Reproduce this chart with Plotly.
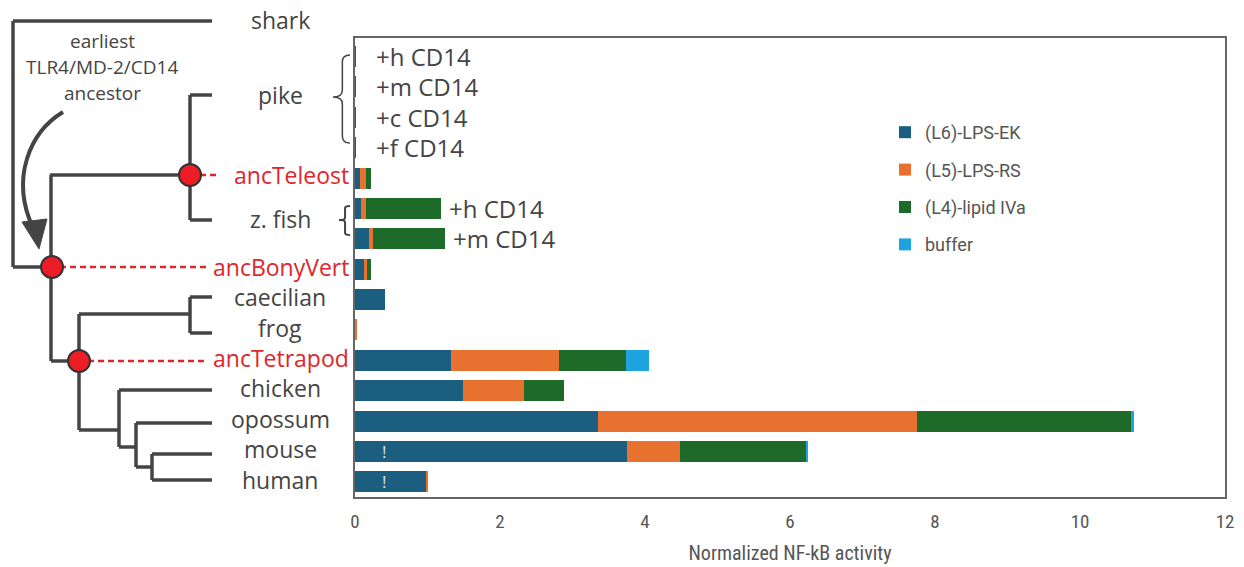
import plotly.graph_objects as go

# ---------------- data ----------------
rows = ["pike +h CD14", "pike +m CD14", "pike +c CD14", "pike +f CD14", "ancTeleost",
        "z. fish +h CD14", "z. fish +m CD14", "ancBonyVert", "caecilian", "frog",
        "ancTetrapod", "chicken", "opossum", "mouse", "human"]
lps_ek   = [0.01, 0.01, 0.01, 0.01, 0.07, 0.08, 0.19, 0.12, 0.41, 0.00, 1.32, 1.49, 3.35, 3.75, 0.99]
lps_rs   = [0.00, 0.00, 0.00, 0.00, 0.08, 0.07, 0.06, 0.04, 0.00, 0.02, 1.49, 0.84, 4.40, 0.73, 0.01]
lipid_iva = [0.00, 0.00, 0.00, 0.00, 0.07, 1.04, 0.99, 0.06, 0.00, 0.00, 0.93, 0.55, 2.95, 1.74, 0.00]
buffer   = [0.00, 0.00, 0.00, 0.00, 0.00, 0.00, 0.00, 0.00, 0.00, 0.00, 0.32, 0.00, 0.04, 0.03, 0.00]
series_names = ["(L6)-LPS-EK", "(L5)-LPS-RS", "(L4)-lipid IVa", "buffer"]
series_colors = ["#1b5e7f", "#e8712f", "#1d6a29", "#1fa3de"]
x_ticks = [0, 2, 4, 6, 8, 10, 12]
cd14_labels = ["+h CD14", "+m CD14", "+c CD14", "+f CD14"]
zfish_labels = ["+h CD14", "+m CD14"]
flag_rows = ["mouse", "human"]

# ---------------- layout constants ----------------
W, H = 1244, 567
L, R, T, B = 355, 19, 38, 70
PW, PH = W - L - R, H - T - B
FONT = "Open Sans"
NARROW = "Liberation Sans Narrow, Roboto Condensed, Roboto"
GREY = "#444444"
RED = "#e0252b"


def X(px):
    return (px - L) / PW


def Y(py):
    return (H - B - py) / PH


fig = go.Figure()
for name, vals, col in zip(series_names, [lps_ek, lps_rs, lipid_iva, buffer], series_colors):
    fig.add_trace(go.Bar(y=rows, x=vals, orientation="h", name=name, marker=dict(color=col, line=dict(width=0)),
                         legendgroup=name))

shapes = []
annotations = []


def line(x0, y0, x1, y1, color=GREY, width=3.5, dash=None):
    d = dict(type="line", xref="paper", yref="paper", x0=X(x0), y0=Y(y0), x1=X(x1), y1=Y(y1),
             line=dict(color=color, width=width))
    if dash:
        d["line"]["dash"] = dash
    shapes.append(d)


def text(x, y, s, size=23, color=GREY, anchor="center"):
    annotations.append(dict(xref="paper", yref="paper", x=X(x), y=Y(y), text=s, showarrow=False,
                            xanchor=anchor, yanchor="middle", font=dict(family=FONT, size=size, color=color)))


def path(pts_str, color=GREY, width=3, fill=None):
    d = dict(type="path", xref="paper", yref="paper", path=pts_str, line=dict(color=color, width=width))
    if fill:
        d["fillcolor"] = fill
    shapes.append(d)


def P(px, py):
    return f"{X(px):.5f},{Y(py):.5f}"


# ---------------- tree ----------------
line(13, 21, 212, 21)              # shark
line(13, 21, 13, 267)
line(13, 267, 52, 267)
line(50, 175, 190, 175)            # to ancTeleost
line(51, 175, 51, 361)
line(51, 361, 79, 361)
line(190, 95, 190, 220)            # ancTeleost clade
line(190, 95, 212, 95)
line(190, 220, 212, 220)
line(79, 314, 79, 430)             # tetrapods
line(79, 314, 190, 314)
line(190, 297, 190, 333)
line(190, 297, 212, 297)
line(190, 333, 212, 333)
line(79, 430, 119, 430)
line(119, 390, 119, 447)
line(119, 390, 212, 390)
line(119, 447, 136, 447)
line(136, 423, 136, 467)
line(136, 423, 212, 423)
line(136, 467, 152, 467)
line(152, 454, 152, 480)
line(152, 454, 212, 454)
line(152, 480, 212, 480)

# dashed red connectors
DASH = "6px,4px"
line(200, 175, 219, 175, color=RED, width=2.5, dash=DASH)
line(60, 267, 206, 267, color=RED, width=2.5, dash=DASH)
line(88, 361, 208, 361, color=RED, width=2.5, dash=DASH)

# nodes
for cx, cy in [(190, 175), (52, 267), (79, 361)]:
    r = 11
    shapes.append(dict(type="circle", xref="paper", yref="paper", x0=X(cx - r), x1=X(cx + r),
                       y0=Y(cy + r), y1=Y(cy - r), fillcolor="#ee1c24", line=dict(color="#333333", width=2)))

# curved arrow
path(f"M {P(63, 112)} C {P(30, 132)} {P(10, 178)} {P(33, 228)}", width=4)
path(f"M {P(22, 222)} L {P(47, 219)} L {P(39, 249)} Z", width=1, fill=GREY)


# braces
def brace(x, w, y0, y1, ym):
    d = (y1 - y0) * 0.08
    xm = x + w * 0.55
    return (f"M {P(x + w, y0)} Q {P(xm, y0)} {P(xm, y0 + d)} L {P(xm, ym - d)} Q {P(xm, ym)} {P(x, ym)} "
            f"Q {P(xm, ym)} {P(xm, ym + d)} L {P(xm, y1 - d)} Q {P(xm, y1)} {P(x + w, y1)}")


path(brace(333, 17, 55, 143, 97), width=1.5)
path(brace(339, 11, 206, 235, 220), width=2)

# labels
for s, y in [("shark", 20), ("pike", 95), ("z. fish", 219), ("caecilian", 297), ("frog", 328),
             ("chicken", 388), ("opossum", 419), ("mouse", 449), ("human", 480)]:
    text(280, y, s)
for s, y in [("ancTeleost", 175), ("ancBonyVert", 267), ("ancTetrapod", 358)]:
    text(351, y, s, color=RED, anchor="right")
text(102, 41, "earliest", size=19)
text(102, 67, "TLR4/MD-2/CD14", size=19)
text(102, 93, "ancestor", size=19)

for s, r in zip(cd14_labels, rows[:4]):
    annotations.append(dict(xref="paper", yref="y", x=X(374), y=r, text=s, showarrow=False, xanchor="left",
                            yanchor="middle", font=dict(family=FONT, size=24, color=GREY)))
for s, r in zip(zfish_labels, rows[5:7]):
    i = rows.index(r)
    tot = lps_ek[i] + lps_rs[i] + lipid_iva[i] + buffer[i]
    annotations.append(dict(xref="x", yref="y", x=tot, y=r, text=s, showarrow=False, xanchor="left",
                            xshift=6, yanchor="middle", font=dict(family=FONT, size=24, color=GREY)))
for r in flag_rows:
    annotations.append(dict(xref="x", yref="y", x=0.4, y=r, text="!", showarrow=False,
                            font=dict(family=FONT, size=17, color="#d6e4ee")))

fig.update_layout(
    width=W, height=H, autosize=False,
    margin=dict(l=L, r=R, t=T, b=B, pad=0),
    paper_bgcolor="white", plot_bgcolor="white",
    barmode="stack", bargap=0.31,
    showlegend=True,
    legend=dict(x=X(885), y=Y(114), xanchor="left", yanchor="top", traceorder="grouped",
                tracegroupgap=11, font=dict(family="Roboto", size=18, color="#555555"),
                bgcolor="rgba(0,0,0,0)", itemwidth=30),
    xaxis=dict(range=[0, 12], tickvals=x_ticks, ticks="outside", ticklen=6, tickcolor="rgba(0,0,0,0)",
               showgrid=False, zeroline=False, automargin=False,
               showline=True, linecolor="#666666", linewidth=2, mirror=True,
               tickfont=dict(family=NARROW, size=19, color="#555555"),
               title=dict(text="Normalized NF-kB activity", font=dict(family=NARROW, size=20, color="#555555"),
                          standoff=14)),
    yaxis=dict(type="category", categoryarray=rows, autorange="reversed", showticklabels=False, ticks="",
               showgrid=False, zeroline=False, automargin=False,
               showline=True, linecolor="#666666", linewidth=2, mirror=True),
    shapes=shapes, annotations=annotations,
)

fig.write_html("out.html", config={"displayModeBar": False},
               post_script="document.body.style.margin='0';document.body.style.overflow='hidden';")
